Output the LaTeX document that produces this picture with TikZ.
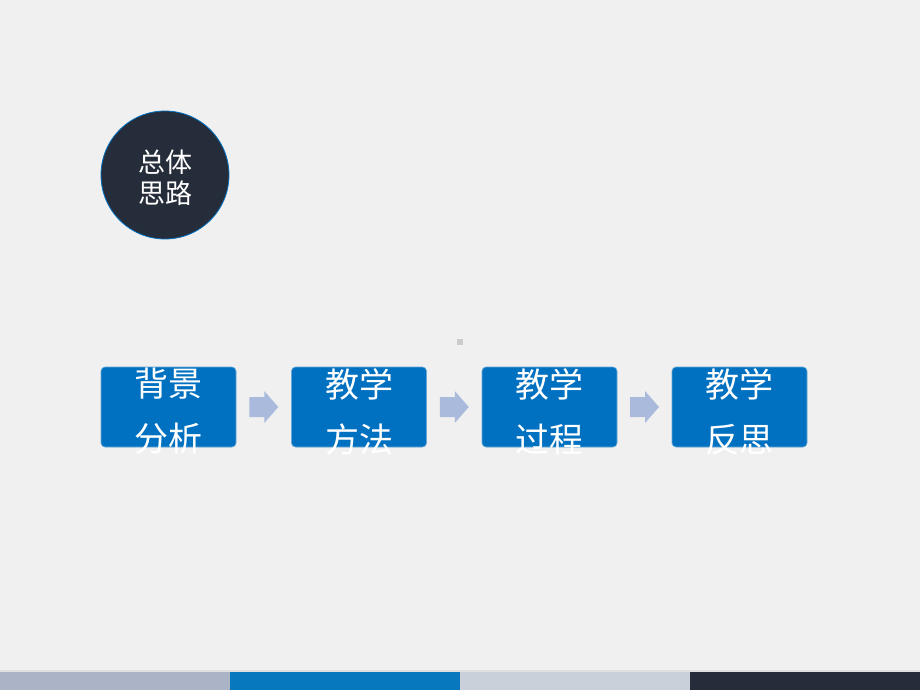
\documentclass[tikz,border=0pt]{standalone}
\usepackage{fontspec}
\newfontfamily\cjk{Noto Sans CJK SC}
\usetikzlibrary{calc}
\definecolor{bgc}{HTML}{F0F0F0}
\definecolor{navy}{HTML}{262D3A}
\definecolor{boxc}{HTML}{0070C0}
\definecolor{arrowc}{HTML}{A9BADD}
\definecolor{barA}{HTML}{ABB4C6}
\definecolor{barB}{HTML}{0878BE}
\definecolor{barC}{HTML}{C9D0DA}
\tikzset{
  stepbox/.style={fill=boxc, draw=boxc!60!white, line width=0.6pt, rounded corners=4pt,
    minimum width=135pt, minimum height=80pt, inner sep=0pt},
  steptext/.style={text=white, align=center, inner sep=0pt,
    font=\cjk\fontsize{34}{55}\selectfont},
}
\begin{document}
\begin{tikzpicture}[x=1pt,y=-1pt]
\fill[bgc] (0,0) rectangle (920,690);
\useasboundingbox (0,0) rectangle (920,690);
% title circle
\node[circle, fill=navy, draw=boxc, line width=0.8pt, minimum size=128pt, inner sep=0pt] (title) at (165,175) {};
\node[text=white, align=center, font=\cjk\fontsize{27}{31}\selectfont] (tt) at ($(title.center)+(0,3)$) {总体\\思路};
\fill[gray!40] (457,339) rectangle (463,345);
%%%%
\foreach \i/\x/\t in {1/168.5/背景\\分析, 2/359/教学\\方法, 3/549.5/教学\\过程, 4/739.5/教学\\反思}{
  \node[stepbox] (b\i) at (\x,407) {};
  \node[steptext] (t\i) at ($(b\i.center)+(0,4.5)$) {\t};
}
\foreach \i/\j in {1/2,2/3,3/4}{
  \coordinate (m\i) at ($(b\i.east)!0.5!(b\j.west)$);
  \fill[arrowc] ($(m\i)+(-14.5,-10)$) -- ++(15,0) -- ++(0,-6) -- ++(14,16)
    -- ++(-14,16) -- ++(0,-6) -- ++(-15,0) -- cycle;
}
% bottom bar
\fill[gray!25] (0,670) rectangle (920,672);
\foreach \c [count=\k from 0] in {barA,barB,barC,navy}
\fill[\c] (230*\k,672) rectangle (230*\k+230,690);
\end{tikzpicture}
\end{document}
